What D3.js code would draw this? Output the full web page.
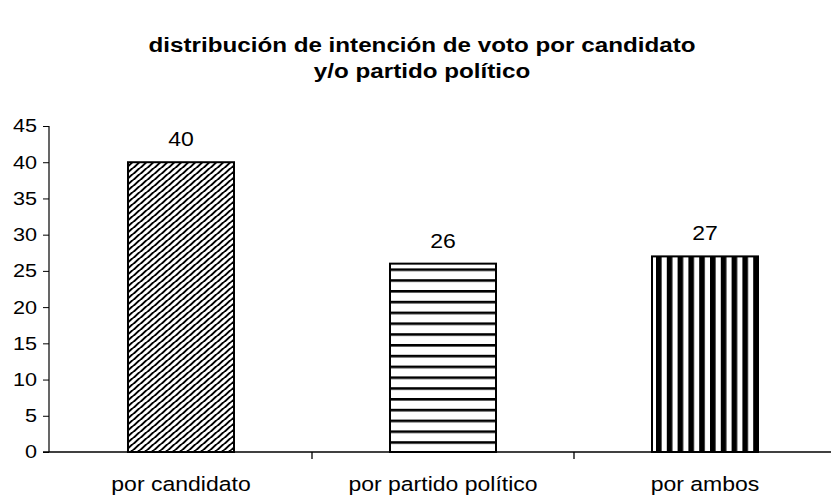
<!DOCTYPE html>
<html><head><meta charset="utf-8">
<script src="https://cdn.jsdelivr.net/npm/d3@7"></script>
<style>body{margin:0;background:#fff}</style>
</head><body>
<svg id="c" width="831" height="497"></svg>
<script>
const categories = ["por candidato", "por partido político", "por ambos"];
const values = [40, 26, 27];
const yTicks = [0, 5, 10, 15, 20, 25, 30, 35, 40, 45];
const titleLines = ["distribución de intención de voto por candidato", "y/o partido político"];
const patterns = ["diag", "horiz", "vert"];

(function () {
const svg = d3.select("#c");
const font = "Arial, 'Liberation Sans', sans-serif";
const pLeft = 49, pRight = 836, pTop = 126, pBottom = 452;
const sx = 1.18;

const xb = d3.scaleBand().domain(categories).range([50, pRight]);
const x = d3.scaleBand().domain(categories).range([50, pRight]).paddingInner(0.5954).paddingOuter(0.2977);
const y = d3.scaleLinear().domain([0, 45]).range([pBottom, pTop]);

const defs = svg.append("defs");
const pd = defs.append("pattern").attr("id", "diag").attr("patternUnits", "userSpaceOnUse")
  .attr("width", 7).attr("height", 6);
pd.append("rect").attr("width", 7).attr("height", 6).attr("fill", "#fff");
pd.append("path").attr("d", "M-1,7.2 L8,-1.2 M-8,7.2 L1,-1.2 M6,7.2 L15,-1.2").attr("stroke", "#000").attr("stroke-width", 2);
const ph = defs.append("pattern").attr("id", "horiz").attr("patternUnits", "userSpaceOnUse")
  .attr("width", 10).attr("height", 10.8).attr("y", pBottom);
ph.append("rect").attr("width", 10).attr("height", 10.8).attr("fill", "#fff");
ph.append("rect").attr("y", 0).attr("width", 10).attr("height", 2.6).attr("fill", "#000");
const pv = defs.append("pattern").attr("id", "vert").attr("patternUnits", "userSpaceOnUse")
  .attr("width", 10.8).attr("height", 10).attr("x", x(categories[2]) + 4);
pv.append("rect").attr("width", 10.8).attr("height", 10).attr("fill", "#fff");
pv.append("rect").attr("x", 0).attr("width", 5.6).attr("height", 10).attr("fill", "#000");

function stretched(sel, s) {
  sel.attr("transform", function () {
    const t = d3.select(this);
    return `translate(${t.attr("data-x")},${t.attr("data-y")}) scale(${s},1)`;
  });
}

svg.append("g").selectAll("text").data(titleLines).join("text")
  .attr("data-x", 422).attr("data-y", (d, i) => 52 + i * 26)
  .attr("text-anchor", "middle").attr("font-family", font).attr("font-weight", "bold")
  .attr("font-size", 20).attr("fill", "#000").text(d => d)
  .call(stretched, 1.21);

const ya = svg.append("g").attr("transform", `translate(${pLeft},0)`)
  .call(d3.axisLeft(y).tickValues(yTicks).tickSize(6).tickPadding(5));
ya.select(".domain").attr("stroke", "#000").attr("stroke-width", 1.2).attr("d", `M0,${pTop}V${pBottom}`);
ya.selectAll(".tick line").attr("stroke", "#000");
ya.selectAll(".tick text").attr("font-family", font).attr("font-size", 18.5).attr("fill", "#000")
  .attr("x", -12 / 1.17).attr("transform", "scale(1.17,1)");

svg.append("line").attr("x1", pLeft - 6).attr("x2", 831).attr("y1", pBottom).attr("y2", pBottom)
  .attr("stroke", "#000").attr("stroke-width", 1.5);
svg.append("g").selectAll("line").data(categories.slice(1)).join("line")
  .attr("x1", d => xb(d)).attr("x2", d => xb(d)).attr("y1", pBottom).attr("y2", pBottom + 7)
  .attr("stroke", "#000").attr("stroke-width", 1.3);
svg.append("g").selectAll("text").data(categories).join("text")
  .attr("data-x", d => xb(d) + xb.bandwidth() / 2).attr("data-y", 491)
  .attr("text-anchor", "middle").attr("font-family", font).attr("font-size", 19.5)
  .attr("fill", "#000").text(d => d)
  .call(stretched, sx);

svg.append("g").selectAll("rect").data(values).join("rect")
  .attr("x", (d, i) => x(categories[i])).attr("width", x.bandwidth())
  .attr("y", d => y(d)).attr("height", d => y(0) - y(d))
  .attr("fill", (d, i) => `url(#${patterns[i]})`)
  .attr("stroke", "#000").attr("stroke-width", 2);

svg.append("g").selectAll("text").data(values).join("text")
  .attr("data-x", (d, i) => x(categories[i]) + x.bandwidth() / 2).attr("data-y", d => y(d) - 16)
  .attr("text-anchor", "middle").attr("font-family", font).attr("font-size", 19.5)
  .attr("fill", "#000").text(d => d)
  .call(stretched, sx);
})();
</script>
</body></html>
